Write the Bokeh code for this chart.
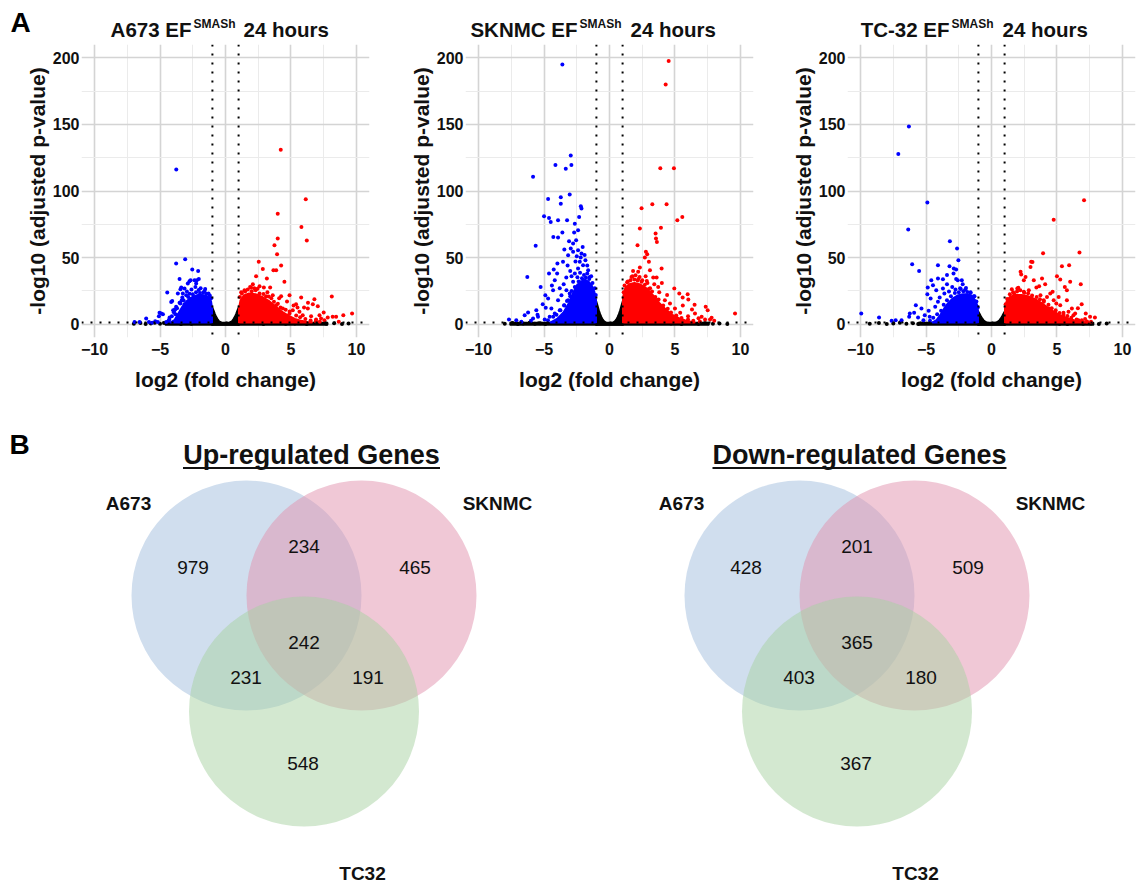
from bokeh.plotting import figure
from bokeh.layouts import column, row
from bokeh.models import Range1d, FixedTicker, Span
from bokeh.embed import file_html
from bokeh.resources import INLINE
from bokeh.core.properties import value

FONT = "Liberation Sans"

# ---------------- Panel A : volcano plots ----------------
CELL_LINES = ["A673", "SKNMC", "TC-32"]
X_TICKS = [-10, -5, 0, 5, 10]
X_MINOR = [-7.5, -2.5, 2.5, 7.5]
Y_TICKS = [0, 50, 100, 150, 200]
Y_MINOR = [25, 75, 125, 175]
FC_CUTOFF = 1.0
P_CUTOFF = 1.3

# A673 -- individually visible genes (log2FC, -log10 padj)
A673_DOWN = [(-3.76, 116.1), (-3.08, 48.8), (-3.77, 45.5), (-2.54, 41.0), (-2.09, 40.0), (-3.51, 34.0),
             (-2.75, 32.2), (-2.37, 33.0), (-2.04, 34.0), (-2.24, 30.5), (-3.38, 27.5), (-3.13, 26.8),
             (-4.45, 23.8), (-3.64, 23.0), (-3.0, 21.8), (-3.3, 20.0), (-4.07, 17.5), (-3.51, 16.0),
             (-3.77, 13.0), (-3.13, 15.0), (-4.91, 8.0), (-5.09, 6.0), (-4.27, 5.0), (-6.06, 4.2),
             (-6.56, 1.7), (-5.6, 1.0), (-5.17, 1.7), (-4.53, 1.7), (-3.89, 10.5), (-3.64, 6.8),
             (-3.44, 26.2), (-3.26, 23.0), (-2.88, 30.5), (-2.67, 33.0), (-2.19, 33.0), (-3.82, 7.5),
             (-4.0, 10.5), (-4.78, 7.5), (-5.04, 8.5), (-5.37, 2.2), (-5.85, 1.7), (-6.95, 1.7),
             (-4.15, 16.7), (-2.6, 26.0), (-2.3, 28.0), (-1.9, 27.0), (-1.6, 25.0), (-2.95, 24.5), (-1.3, 23.0),
             (-4.3, 3.5), (-4.1, 6.0), (-3.95, 9.0), (-3.7, 12.0), (-3.45, 15.5), (-3.2, 18.0), (-2.85, 20.5),
             (-2.5, 22.5), (-2.25, 24.0), (-1.95, 23.5), (-1.7, 23.8), (-1.45, 22.8), (-1.2, 21.5),
             (-2.75, 22.8), (-3.35, 17.8), (-3.85, 11.2), (-4.35, 2.6), (-1.1, 19.5), (-2.05, 25.6),
             (-1.55, 26.5)]
A673_UP = [(4.22, 131.0), (6.13, 93.8), (3.99, 83.0), (5.8, 73.0), (6.21, 62.8), (3.99, 64.3), (3.74, 59.3),
           (3.94, 52.5), (2.54, 46.8), (4.25, 44.0), (2.85, 41.5), (3.66, 40.5), (3.87, 40.5), (2.34, 36.0),
           (3.16, 34.3), (4.5, 31.8), (2.09, 30.0), (2.6, 28.5), (2.93, 27.5), (3.41, 27.5), (1.88, 28.0),
           (1.45, 25.5), (3.61, 21.8), (4.25, 21.0), (4.89, 21.8), (5.78, 20.0), (8.12, 20.8), (6.79, 18.8),
           (5.39, 15.0), (6.67, 15.0), (7.05, 13.5), (6.29, 11.8), (5.14, 10.5), (5.65, 9.3), (9.67, 8.0),
           (9.0, 6.8), (8.19, 5.5), (8.45, 5.5), (7.81, 5.0), (6.54, 6.0), (7.3, 4.3), (6.92, 3.5), (8.65, 1.8),
           (7.18, 6.8), (5.9, 6.8), (4.89, 8.0), (4.38, 11.8), (3.87, 14.3), (7.56, 3.0), (4.7, 17.0),
           (5.2, 14.0), (6.0, 12.5), (4.1, 19.5), (1.2, 24.0), (2.3, 25.5), (3.2, 24.0), (7.5, 8.8),
           (6.3, 16.0), (5.5, 12.6),
           (1.1, 20.5), (1.25, 23.0), (1.5, 24.5), (1.7, 26.0), (2.0, 24.8), (2.2, 27.0), (2.6, 23.0),
           (2.9, 22.6), (3.1, 21.0), (3.5, 19.5), (3.7, 16.8), (4.0, 15.4), (4.2, 12.6), (4.6, 10.8),
           (4.9, 9.6), (5.4, 6.5), (5.7, 5.2), (6.1, 3.8), (6.5, 2.8), (6.9, 2.2), (7.2, 1.8), (2.45, 26.6),
           (1.95, 27.6), (3.3, 20.8)]
A673_NS = [(-7.0, 0.3), (-6.5, 0.9), (-6.1, 0.2), (-5.7, 0.5), (-5.4, 1.0), (-5.0, 0.4), (-4.7, 0.8),
           (-3.4, 0.2), (-2.6, 0.3), (2.9, 0.2), (4.6, 0.3), (5.3, 0.6), (6.2, 0.2), (7.0, 0.9), (7.7, 0.4),
           (8.3, 0.7), (8.9, 0.2), (9.4, 0.5)]
# dense (over-plotted) regions, traced as outlines
A673_DOWN_CORE = [(-4.2, 1.3), (-3.9, 3), (-3.6, 8), (-3.3, 13), (-3.0, 17), (-2.7, 19.5), (-2.4, 21),
                  (-2.1, 22), (-1.8, 22), (-1.5, 21.5), (-1.25, 20), (-1.1, 17), (-1.03, 12), (-1.03, 1.3)]
A673_UP_CORE = [(1.03, 1.3), (1.03, 12), (1.15, 18), (1.4, 21.5), (1.8, 23), (2.3, 22.5), (2.8, 20.5),
                (3.3, 17.5), (3.8, 13.5), (4.3, 9.5), (4.8, 6.5), (5.3, 4), (5.8, 2.5), (6.3, 1.5), (6.6, 1.3)]
A673_NS_CORE = [(-1.05, -0.6), (-1.05, 14), (-0.9, 10.5), (-0.8, 7.8), (-0.7, 5.6), (-0.6, 3.9), (-0.5, 2.6),
                (-0.4, 1.8), (-0.3, 1.3), (-0.15, 1.0), (0, 0.9), (0.15, 1.0), (0.3, 1.3), (0.4, 1.8),
                (0.5, 2.6), (0.6, 3.9), (0.7, 5.6), (0.8, 7.8), (0.9, 10.5), (1.05, 14), (1.05, -0.6)]
A673_NS_BAND = [(-4.6, -0.7), (-4.6, 1.2), (7.8, 1.2), (7.8, -0.7)]

# SKNMC
SKNMC_DOWN = [(-3.6, 195.0), (-2.96, 126.7), (-4.13, 119.5), (-2.91, 119.5), (-3.34, 116.7), (-5.84, 110.7),
              (-4.69, 94.0), (-3.72, 95.4), (-3.04, 97.4), (-3.72, 90.5), (-2.19, 88.5), (-2.14, 86.8),
              (-5.0, 81.0), (-4.62, 79.8), (-4.49, 76.8), (-3.93, 78.0), (-3.24, 78.0), (-2.32, 80.5),
              (-2.65, 75.5), (-2.7, 68.8), (-2.4, 70.5), (-3.6, 68.8), (-4.29, 65.5), (-3.93, 65.0),
              (-3.09, 62.3), (-2.78, 60.5), (-5.64, 58.8), (-2.96, 56.8), (-2.78, 54.3), (-2.4, 55.5),
              (-2.14, 53.0), (-3.16, 51.8), (-3.55, 46.8), (-3.98, 45.5), (-4.26, 41.0), (-4.62, 38.0),
              (-6.28, 35.5), (-4.18, 33.0), (-5.26, 28.0), (-4.31, 25.5), (-4.9, 21.8), (-4.69, 19.3),
              (-3.67, 21.8), (-3.93, 18.0), (-4.87, 12.3), (-4.44, 11.8), (-5.59, 10.5), (-6.22, 8.8),
              (-6.48, 6.8), (-7.68, 3.5), (-7.12, 3.0), (-6.73, 1.8), (-5.46, 5.5), (-5.84, 4.3),
              (-3.29, 25.5), (-3.04, 23.0), (-2.78, 31.8), (-2.65, 38.0), (-2.4, 41.8), (-2.02, 44.3),
              (-1.84, 48.0), (-2.27, 46.8), (-1.63, 40.5), (-1.51, 35.5), (-1.89, 33.0), (-3.16, 18.0),
              (-3.47, 14.3), (-3.8, 10.5), (-4.18, 8.0), (-4.57, 5.5), (-4.95, 3.5), (-3.3, 35.0),
              (-3.0, 40.0), (-2.6, 47.0), (-2.2, 50.0), (-1.7, 44.0), (-3.5, 30.0), (-2.9, 36.0),
              (-2.5, 51.0), (-2.05, 58.0), (-1.9, 52.0), (-3.2, 44.0), (-3.8, 27.0), (-5.1, 15.0),
              (-5.5, 7.0), (-6.0, 2.5), (-4.4, 29.0), (-4.0, 38.0), (-3.45, 56.0), (-2.55, 63.0),
              (-4.7, 3.0), (-4.3, 5.5), (-4.05, 7.0), (-3.75, 10.5), (-3.45, 14.0), (-3.25, 17.5), (-3.0, 21.0),
              (-2.9, 25.0), (-2.65, 28.0), (-2.35, 32.0), (-2.1, 34.5), (-1.8, 35.0), (-1.55, 34.0),
              (-1.3, 31.0), (-1.12, 27.0), (-1.05, 22.0), (-2.45, 35.2), (-1.95, 37.0), (-1.7, 38.0),
              (-2.25, 38.6), (-1.4, 36.0)]
SKNMC_UP = [(4.52, 197.7), (4.29, 180.0), (3.88, 117.0), (4.92, 117.0), (3.27, 90.0), (4.36, 90.0),
            (2.45, 87.0), (5.18, 78.0), (5.56, 80.5), (3.93, 72.5), (2.32, 71.8), (3.52, 68.0), (3.55, 64.3),
            (3.62, 61.8), (2.14, 59.3), (2.78, 54.3), (2.88, 52.5), (2.7, 50.0), (3.01, 46.8), (2.32, 42.5),
            (3.98, 41.8), (2.19, 39.3), (3.09, 40.5), (2.76, 36.0), (3.34, 35.0), (3.6, 35.0), (1.68, 35.5),
            (1.99, 36.8), (3.42, 30.0), (3.72, 28.0), (4.95, 26.8), (5.33, 23.0), (5.97, 22.5), (5.59, 20.0),
            (6.02, 18.5), (7.35, 13.0), (7.5, 10.5), (9.59, 8.0), (6.53, 8.0), (7.04, 5.5), (7.68, 3.5),
            (7.3, 3.5), (4.62, 15.5), (5.0, 11.8), (4.23, 18.0), (2.5, 33.0), (2.9, 31.0), (1.4, 32.0),
            (2.2, 34.0), (3.1, 27.0), (4.4, 22.0), (3.8, 24.0), (5.6, 14.0), (6.3, 11.0), (6.0, 6.0),
            (5.4, 8.5), (6.8, 4.5), (6.5, 14.5), (8.0, 2.5), (7.8, 4.8), (4.0, 31.0), (1.8, 40.0),
            (1.08, 24.0), (1.15, 29.0), (1.35, 31.5), (1.6, 33.0), (1.9, 33.5), (2.15, 32.8), (2.45, 31.8),
            (2.7, 29.6), (3.0, 26.5), (3.25, 24.5), (3.5, 20.5), (3.75, 18.5), (4.1, 14.0), (4.45, 11.5),
            (4.7, 8.8), (5.1, 6.5), (5.5, 4.6), (6.0, 3.5), (6.4, 2.5), (6.9, 2.0), (1.75, 36.0),
            (2.3, 35.5), (2.85, 32.5)]
SKNMC_NS = [(-8.0, 0.4), (-7.4, 0.8), (-7.0, 0.2), (-6.6, 0.6), (-6.1, 1.0), (-5.7, 0.3), (-5.3, 0.7),
            (-4.9, 0.2), (4.7, 0.5), (5.5, 0.2), (6.2, 0.8), (6.8, 0.3), (7.3, 0.9), (7.9, 0.4), (8.4, 0.6),
            (9.0, 0.2)]
SKNMC_DOWN_CORE = [(-4.5, 1.3), (-4.0, 4), (-3.5, 9), (-3.1, 16), (-2.8, 23), (-2.5, 29), (-2.2, 32),
                   (-1.9, 33), (-1.6, 32), (-1.35, 29), (-1.15, 24), (-1.03, 18), (-1.03, 1.3)]
SKNMC_UP_CORE = [(1.03, 1.3), (1.03, 20), (1.2, 27), (1.5, 30), (1.9, 31), (2.3, 30), (2.8, 27), (3.3, 22),
                 (3.8, 16), (4.3, 11), (4.8, 7), (5.3, 4.5), (5.8, 2.8), (6.3, 1.6), (6.5, 1.3)]
SKNMC_NS_CORE = [(-1.05, -0.6), (-1.05, 19), (-0.9, 14), (-0.8, 10.5), (-0.7, 7.6), (-0.6, 5.3), (-0.5, 3.5),
                 (-0.4, 2.3), (-0.3, 1.5), (-0.15, 1.0), (0, 0.9), (0.15, 1.0), (0.3, 1.5), (0.4, 2.3),
                 (0.5, 3.5), (0.6, 5.3), (0.7, 7.6), (0.8, 10.5), (0.9, 14), (1.05, 19), (1.05, -0.6)]
SKNMC_NS_BAND = [(-7.6, -0.7), (-7.6, 1.2), (7.6, 1.2), (7.6, -0.7)]

# TC-32
TC32_DOWN = [(-6.31, 148.5), (-7.12, 127.8), (-4.9, 91.3), (-6.36, 71.0), (-6.06, 45.0), (-5.53, 40.0),
             (-3.18, 62.3), (-2.63, 56.8), (-2.53, 48.0), (-4.09, 44.3), (-3.21, 43.5), (-2.88, 41.8),
             (-2.7, 41.0), (-4.6, 33.0), (-4.09, 34.3), (-3.71, 33.8), (-2.7, 34.0), (-2.58, 33.0),
             (-2.27, 33.0), (-4.87, 27.5), (-4.47, 29.3), (-4.22, 25.5), (-3.71, 26.8), (-4.9, 22.5),
             (-4.65, 19.3), (-3.96, 20.0), (-4.09, 16.8), (-5.78, 14.3), (-5.35, 11.8), (-5.91, 8.5),
             (-6.29, 5.5), (-6.24, 8.0), (-7.32, 3.0), (-7.63, 2.5), (-8.59, 5.0), (-9.95, 8.0),
             (-6.87, 3.0), (-5.61, 5.0), (-5.1, 6.8), (-4.72, 5.5), (-3.4, 30.0), (-3.0, 28.0),
             (-2.4, 27.0), (-2.0, 26.0), (-1.6, 24.0), (-3.6, 23.0), (-4.3, 13.0), (-4.8, 10.0),
             (-5.2, 3.0), (-2.9, 38.0), (-3.4, 37.0), (-2.2, 30.0), (-1.3, 21.0),
             (-4.7, 2.6), (-4.45, 4.8), (-4.15, 7.4), (-3.85, 10.0), (-3.65, 14.5), (-3.4, 18.0), (-3.1, 21.0),
             (-2.8, 23.4), (-2.5, 24.0), (-2.15, 24.8), (-1.85, 24.2), (-1.6, 23.5), (-1.35, 21.0),
             (-1.15, 17.0), (-1.05, 12.5), (-2.35, 26.4), (-1.95, 27.2), (-2.75, 26.0), (-3.25, 24.5)]
TC32_UP = [(7.07, 93.0), (4.75, 78.5), (6.72, 53.8), (3.94, 53.3), (3.03, 46.8), (2.98, 43.0), (5.38, 43.5),
           (5.93, 44.3), (2.22, 39.3), (2.6, 35.5), (5.0, 36.0), (5.25, 33.5), (6.01, 31.8), (6.82, 30.0),
           (4.67, 24.3), (3.64, 28.5), (3.43, 27.5), (3.86, 34.3), (5.13, 20.5), (5.76, 25.5), (6.89, 15.0),
           (4.95, 15.5), (6.14, 11.8), (7.53, 5.5), (7.9, 5.0), (7.15, 3.8), (6.64, 3.0), (6.26, 6.8),
           (5.5, 8.5), (4.24, 20.5), (3.99, 18.0), (4.49, 23.0), (3.74, 21.8), (4.75, 18.0), (5.25, 14.3),
           (5.76, 18.0), (5.88, 9.3), (6.39, 8.0), (4.37, 11.8), (4.87, 9.3), (1.97, 26.8), (2.47, 24.3),
           (2.85, 25.5), (1.72, 23.0), (3.23, 33.0), (2.47, 33.0), (2.27, 37.3), (3.13, 46.7), (5.6, 28.0),
           (6.6, 12.0), (7.2, 8.0), (4.1, 30.0),
           (1.08, 15.0), (1.2, 19.0), (1.4, 22.5), (1.65, 24.0), (1.95, 24.5), (2.2, 25.5), (2.5, 23.6),
           (2.8, 23.2), (3.1, 21.6), (3.45, 20.5), (3.7, 18.8), (4.0, 16.8), (4.35, 14.5), (4.6, 12.0),
           (4.9, 10.5), (5.2, 8.4), (5.5, 7.0), (5.8, 6.2), (6.1, 4.8), (6.5, 3.6), (6.9, 2.9), (7.3, 2.1),
           (7.6, 1.8), (2.05, 27.4), (1.55, 26.2)]
TC32_NS = [(-9.3, 0.4), (-8.6, 0.8), (-8.0, 0.2), (-7.5, 0.6), (-7.0, 1.0), (-6.5, 0.3), (-6.0, 0.7),
           (-5.6, 0.2), (5.2, 0.4), (5.8, 0.2), (6.4, 0.8), (7.0, 0.3), (7.6, 0.6), (8.2, 0.2), (8.8, 0.5)]
TC32_DOWN_CORE = [(-4.5, 1.3), (-4.2, 3), (-3.9, 7), (-3.6, 12), (-3.3, 16), (-3.0, 19), (-2.6, 21.5),
                  (-2.2, 22.5), (-1.8, 22.5), (-1.5, 21), (-1.25, 18), (-1.08, 14), (-1.03, 9), (-1.03, 1.3)]
TC32_UP_CORE = [(1.03, 1.3), (1.03, 12), (1.15, 17), (1.4, 20.5), (1.8, 22), (2.3, 22), (2.8, 21), (3.3, 19),
                (3.8, 16), (4.3, 12.5), (4.8, 9), (5.3, 6.5), (5.8, 4.5), (6.3, 3), (6.8, 2), (7.3, 1.3)]
TC32_NS_CORE = [(-1.05, -0.6), (-1.05, 10.5), (-0.9, 8), (-0.8, 6), (-0.7, 4.4), (-0.6, 3.1), (-0.5, 2.2),
                (-0.4, 1.6), (-0.3, 1.2), (-0.15, 1.0), (0, 0.9), (0.15, 1.0), (0.3, 1.2), (0.4, 1.6),
                (0.5, 2.2), (0.6, 3.1), (0.7, 4.4), (0.8, 6), (0.9, 8), (1.05, 10.5), (1.05, -0.6)]
TC32_NS_BAND = [(-5.6, -0.7), (-5.6, 1.2), (7.8, 1.2), (7.8, -0.7)]

UP_COLOR = "#ff0000"
DOWN_COLOR = "#0000ff"
NS_COLOR = "#000000"
TEXT_COLOR = "#111111"

# title layout (page pixels): right end of "<line> EF", start of superscript, start of "24 hours"
TITLE_EF_RIGHT = [191, 577, 949]
TITLE_SUP_LEFT = [193, 579, 951]
TITLE_REST_LEFT = [243, 630, 1002]


def xs(pts):
    return [a for a, _ in pts]


def ys(pts):
    return [b for _, b in pts]


def volcano(up, down, ns, up_core, down_core, ns_core, ns_band, border_left, border_right):
    p = figure(frame_width=288, frame_height=293, x_range=Range1d(-11, 11), y_range=Range1d(-10, 210),
               output_backend="svg", toolbar_location=None,
               min_border_left=border_left, min_border_right=border_right,
               min_border_top=0, min_border_bottom=71)
    p.outline_line_color = None
    xt = FixedTicker(ticks=X_TICKS, minor_ticks=X_MINOR)
    yt = FixedTicker(ticks=Y_TICKS, minor_ticks=Y_MINOR)
    p.xaxis.ticker = xt
    p.yaxis.ticker = yt
    p.xgrid.ticker = xt
    p.ygrid.ticker = yt
    for g in (p.xgrid, p.ygrid):
        g.grid_line_color = "#d4d4d4"
        g.grid_line_width = 1.6
        g.minor_grid_line_color = "#ebebeb"
        g.minor_grid_line_width = 1
    for ax in (p.xaxis, p.yaxis):
        ax.axis_line_color = None
        ax.major_tick_line_color = None
        ax.minor_tick_line_color = None
        ax.major_tick_out = 0
        ax.major_tick_in = 0
        ax.minor_tick_out = 0
        ax.minor_tick_in = 0
        ax.major_label_text_font = FONT
        ax.major_label_text_font_style = "bold"
        ax.major_label_text_font_size = "16px"
        ax.major_label_text_color = TEXT_COLOR
        ax.axis_label_text_font = FONT
        ax.axis_label_text_font_style = "bold"
        ax.axis_label_text_font_size = "21px"
        ax.axis_label_text_color = TEXT_COLOR
    p.xaxis.axis_label = "log2 (fold change)"
    p.yaxis.axis_label = "-log10 (adjusted p-value)"
    p.xaxis.major_label_overrides = {-10: "\u221210", -5: "\u22125"}
    p.xaxis.major_label_standoff = 5
    p.xaxis.axis_label_standoff = 10
    p.yaxis.major_label_standoff = 2
    p.yaxis.axis_label_standoff = 1

    # non-significant genes
    p.patch(xs(ns_band), ys(ns_band), fill_color=NS_COLOR, line_color=NS_COLOR, line_width=1.5)
    p.patch(xs(ns_core), ys(ns_core), fill_color=NS_COLOR, line_color=NS_COLOR, line_width=1.5)
    p.scatter(xs(ns), ys(ns), size=4, fill_color=NS_COLOR, line_color=None)
    # down / up regulated genes
    p.patch(xs(down_core), ys(down_core), fill_color=DOWN_COLOR, line_color=DOWN_COLOR, line_width=2,
            line_join="round")
    p.patch(xs(up_core), ys(up_core), fill_color=UP_COLOR, line_color=UP_COLOR, line_width=2,
            line_join="round")
    p.scatter(xs(down), ys(down), size=4, fill_color=DOWN_COLOR, line_color=None)
    p.scatter(xs(up), ys(up), size=4, fill_color=UP_COLOR, line_color=None)

    for loc in (-FC_CUTOFF, FC_CUTOFF):
        p.add_layout(Span(location=loc, dimension="height", line_color="black", line_width=2,
                          line_dash="2 7"))
    p.add_layout(Span(location=P_CUTOFF, dimension="width", line_color="black", line_width=2,
                      line_dash="2 7"))
    return p


p1 = volcano(A673_UP, A673_DOWN, A673_NS, A673_UP_CORE, A673_DOWN_CORE, A673_NS_CORE, A673_NS_BAND, 81, 11)
p2 = volcano(SKNMC_UP, SKNMC_DOWN, SKNMC_NS, SKNMC_UP_CORE, SKNMC_DOWN_CORE, SKNMC_NS_CORE, SKNMC_NS_BAND,
             85, 5)
p3 = volcano(TC32_UP, TC32_DOWN, TC32_NS, TC32_UP_CORE, TC32_DOWN_CORE, TC32_NS_CORE, TC32_NS_BAND, 89, 3)

# title strip above the volcano plots (page pixel coordinates)
ts = figure(frame_width=1138, frame_height=44, x_range=Range1d(0, 1138), y_range=Range1d(44, 0),
            output_backend="svg", toolbar_location=None, min_border=0)
ts.axis.visible = False
ts.grid.visible = False
ts.outline_line_color = None
ts.text(x=TITLE_EF_RIGHT, y=[29] * 3, text=[c + " EF" for c in CELL_LINES], text_font=value(FONT),
        text_font_style="bold", text_font_size="20.5px", text_align="right", text_baseline="alphabetic",
        text_color=TEXT_COLOR)
ts.text(x=TITLE_SUP_LEFT, y=[23] * 3, text=["SMASh"] * 3, text_font=value(FONT),
        text_font_style="bold", text_font_size="12px", text_align="left", text_baseline="alphabetic",
        text_color=TEXT_COLOR)
ts.text(x=TITLE_REST_LEFT, y=[29] * 3, text=["24 hours"] * 3, text_font=value(FONT),
        text_font_style="bold", text_font_size="20.5px", text_align="left", text_baseline="alphabetic",
        text_color=TEXT_COLOR)
ts.text(x=[10], y=[22], text=["A"], text_font=value(FONT), text_font_style="bold", text_font_size="28px",
        text_align="left", text_baseline="middle", text_color="black")

# ---------------- Panel B : Venn diagrams ----------------
VENN_SETS = ["A673", "SKNMC", "TC32"]
VENN_REGIONS = ["A673 only", "A673&SKNMC", "SKNMC only", "all three", "A673&TC32", "SKNMC&TC32", "TC32 only"]
UP_COUNTS = [979, 234, 465, 242, 231, 191, 548]
DOWN_COUNTS = [428, 201, 509, 365, 403, 180, 367]
VENN_TITLES = ["Up-regulated Genes", "Down-regulated Genes"]
VENN_COLORS = ["#a1bddd", "#e191ad", "#a7d1a1"]

# layout geometry (page pixels)
DIAGRAM_CX = [303.5, 856.5]
DIAGRAM_CY = 653
CIRCLE_DX = [-57.5, 57.5, 0]
CIRCLE_DY = [-58, -58, 58]
CIRCLE_R = 115
REGION_DX = [-111, 0, 111, 0, -58, 64, -1]
REGION_DY = [-86, -107, -86, -11, 24, 24, 110]
SET_DX = [-175.5, 193.5, 58.5]
SET_DY = [-150, -150, 220]
TITLE_DX = [7.5, 2.5]
TITLE_HALF_W = [128.5, 147]

vb = figure(frame_width=1138, frame_height=480, x_range=Range1d(0, 1138), y_range=Range1d(888, 408),
            output_backend="svg", toolbar_location=None, min_border=0)
vb.axis.visible = False
vb.grid.visible = False
vb.outline_line_color = None

for k, counts in enumerate([UP_COUNTS, DOWN_COUNTS]):
    cx = DIAGRAM_CX[k]
    vb.ellipse(x=[cx + d for d in CIRCLE_DX], y=[DIAGRAM_CY + d for d in CIRCLE_DY],
               width=2 * CIRCLE_R, height=2 * CIRCLE_R, fill_color=VENN_COLORS, fill_alpha=0.5,
               line_color=None)
    vb.text(x=[cx + d for d in REGION_DX], y=[DIAGRAM_CY + d for d in REGION_DY],
            text=[str(c) for c in counts], text_font=value(FONT), text_font_size="19px",
            text_align="center", text_baseline="middle", text_color=TEXT_COLOR)
    vb.text(x=[cx + d for d in SET_DX], y=[DIAGRAM_CY + d for d in SET_DY], text=VENN_SETS,
            text_font=value(FONT), text_font_style="bold", text_font_size="19px",
            text_align="center", text_baseline="middle", text_color=TEXT_COLOR)
    tx = cx + TITLE_DX[k]
    vb.text(x=[tx], y=[454], text=[VENN_TITLES[k]], text_font=value(FONT), text_font_style="bold",
            text_font_size="27px", text_align="center", text_baseline="middle", text_color=TEXT_COLOR)
    vb.segment(x0=[tx - TITLE_HALF_W[k]], y0=[467.5], x1=[tx + TITLE_HALF_W[k]], y1=[467.5],
               line_color=TEXT_COLOR, line_width=2)

vb.text(x=[9], y=[444], text=["B"], text_font=value(FONT), text_font_style="bold", text_font_size="28px",
        text_align="left", text_baseline="middle", text_color="black")

layout = column(ts, row(p1, p2, p3), vb)
open("out.html", "w").write(file_html(layout, INLINE))
